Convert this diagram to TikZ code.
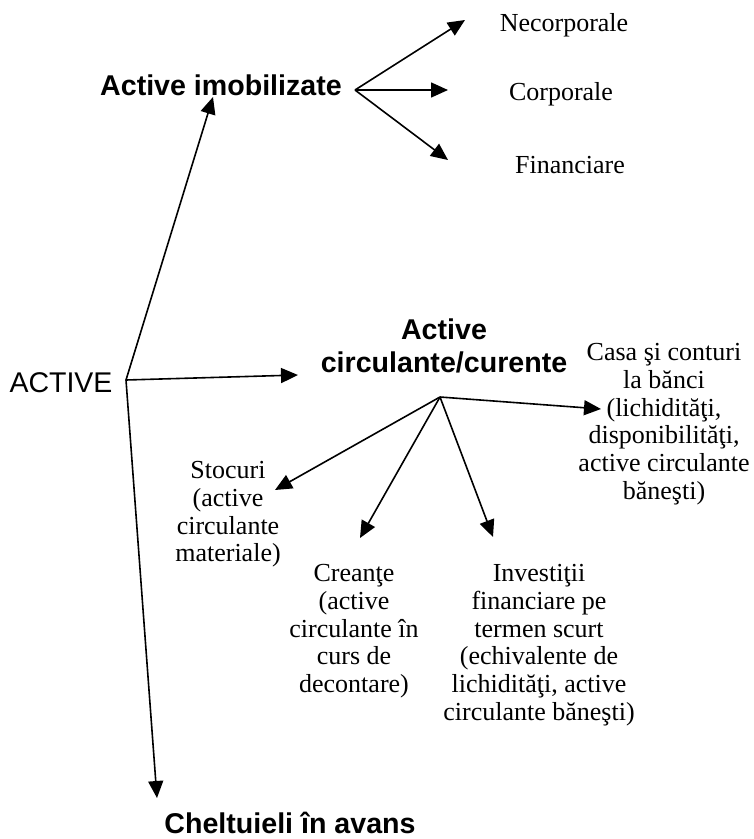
\documentclass[tikz,border=0pt]{standalone}
\usepackage{fontspec}
\setmainfont{Liberation Serif}
\setsansfont{Liberation Sans}
\usetikzlibrary{arrows.meta}

\begin{document}
\begin{tikzpicture}[x=1pt, y=-1pt,
    every node/.style={inner sep=0pt},
    titlu/.style={font=\fontsize{28.6}{33}\selectfont\sffamily\bfseries, align=center},
    eticheta/.style={font=\fontsize{26}{27.8}\selectfont, align=center},
    sageata/.style={line width=1.6pt, -{Triangle[length=17pt, width=15pt]}}]
    \useasboundingbox (0,0) rectangle (754,839);

    % Noduri

    \node[anchor=base, font=\fontsize{28.5}{33}\selectfont\sffamily] (active) at (61,392) {ACTIVE};
    \node[titlu, anchor=base] (imob) at (221,95) {Active imobilizate};
    \node[eticheta, anchor=base] (necorp) at (564,31) {Necorporale};
    \node[eticheta, anchor=base] (corp) at (561,100) {Corporale};
    \node[eticheta, anchor=base] (fin) at (570,173) {Financiare};
    \node[titlu, anchor=north] (circ) at (444,319) {Active\\circulante/curente};
    \node[eticheta, anchor=north] (casa) at (664,343) {Casa şi conturi\\la bănci\\(lichidităţi,\\disponibilităţi,\\active circulante\\băneşti)};
    \node[eticheta, anchor=north] (stoc) at (228,461) {Stocuri\\(active\\circulante\\materiale)};
    \node[eticheta, anchor=north] (creante) at (354,564) {Creanţe\\(active\\circulante în\\curs de\\decontare)};
    \node[eticheta, anchor=north] (invest) at (539,564) {Investiţii\\financiare pe\\termen scurt\\(echivalente de\\lichidităţi, active\\circulante băneşti)};
    \node[titlu, anchor=base] (chelt) at (290,833) {Cheltuieli în avans};

    \coordinate (ramA) at (126,380);
    \coordinate (ramI) at (355,90);
    \coordinate (ramC) at (440,397);

    \coordinate (vImob) at (213,97);
    \coordinate (vCirc) at (298,375);
    \coordinate (vChelt) at (157,798);
    \coordinate (vNecorp) at (465,20);
    \coordinate (vCorp) at (448,90);
    \coordinate (vFin) at (448,160);
    \coordinate (vCasa) at (601,409);
    \coordinate (vStoc) at (275,490);
    \coordinate (vCreante) at (360,538);
    \coordinate (vInvest) at (493,537);

    % Sageti

    \draw[sageata] (ramA) -- (vImob);
    \draw[sageata] (ramA) -- (vCirc);
    \draw[sageata] (ramA) -- (vChelt);
    \draw[sageata] (ramI) -- (vNecorp);
    \draw[sageata] (ramI) -- (vCorp);
    \draw[sageata] (ramI) -- (vFin);
    \draw[sageata] (ramC) -- (vCasa);
    \draw[sageata] (ramC) -- (vStoc);
    \draw[sageata] (ramC) -- (vCreante);
    \draw[sageata] (ramC) -- (vInvest);

\end{tikzpicture}
\end{document}
